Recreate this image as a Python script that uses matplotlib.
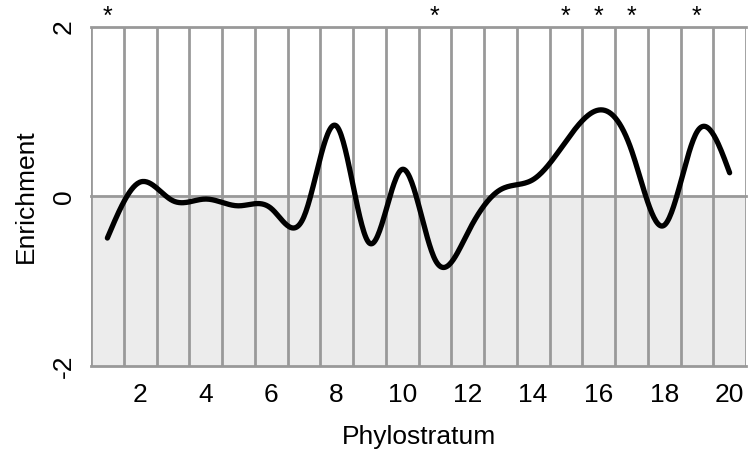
import numpy as np
import matplotlib
matplotlib.use('Agg')
import matplotlib.pyplot as plt

plt.rcParams['font.family'] = ['Liberation Sans', 'DejaVu Sans']

# enrichment per phylostratum
strata = [1, 2, 3, 4, 5, 6, 7, 8, 9, 10, 11, 12, 13, 14, 15, 16, 17, 18, 19, 20]
enrichment = [-0.49, 0.17, -0.05, -0.03, -0.11, -0.14, -0.24, 0.83, -0.55, 0.32,
              -0.74, -0.43, 0.08, 0.20, 0.65, 1.02, 0.55, -0.34, 0.76, 0.28]
significant = [1, 11, 15, 16, 17, 19]
xticks = [2, 4, 6, 8, 10, 12, 14, 16, 18, 20]
yticks = [-2, 0, 2]


def natural_spline(x, y, n=600):
    # plain natural cubic spline, only used to draw a smooth line through the points
    x = np.asarray(x, float)
    y = np.asarray(y, float)
    k = len(x)
    h = np.diff(x)
    A = np.zeros((k, k))
    b = np.zeros(k)
    A[0, 0] = A[-1, -1] = 1
    for i in range(1, k - 1):
        A[i, i - 1] = h[i - 1]
        A[i, i] = 2 * (h[i - 1] + h[i])
        A[i, i + 1] = h[i]
        b[i] = 6 * ((y[i + 1] - y[i]) / h[i] - (y[i] - y[i - 1]) / h[i - 1])
    m = np.linalg.solve(A, b)
    xs = np.linspace(x[0], x[-1], n)
    idx = np.clip(np.searchsorted(x, xs) - 1, 0, k - 2)
    x0, x1 = x[idx], x[idx + 1]
    hh = x1 - x0
    t0, t1 = x1 - xs, xs - x0
    ys = (m[idx] * t0 ** 3 / (6 * hh) + m[idx + 1] * t1 ** 3 / (6 * hh)
          + (y[idx] / hh - m[idx] * hh / 6) * t0
          + (y[idx + 1] / hh - m[idx + 1] * hh / 6) * t1)
    return xs, ys


fig = plt.figure(figsize=(7.49, 4.49), dpi=100)
ax = fig.add_axes([91 / 749, 1 - 366 / 449, 655 / 749, 339 / 449])

lo, hi = strata[0] - 0.5, strata[-1] + 0.5
ax.set_xlim(lo, hi)
ax.set_ylim(-2, 2)

ax.axhspan(-2, 0, color='#ececec', zorder=0)
grid = '#999999'
for xv in np.arange(lo, hi + 0.01, 1.0):
    ax.axvline(xv, color=grid, lw=2, zorder=1)
for yv in yticks:
    ax.axhline(yv, color=grid, lw=2, zorder=1, clip_on=False)

xs, ys = natural_spline(strata, enrichment)
ax.plot(xs, ys, color='black', lw=3.8, solid_capstyle='round', zorder=3)

for s in significant:
    ax.text(s, 2.12, '*', ha='center', va='center', fontsize=18, clip_on=False)

for sp in ax.spines.values():
    sp.set_visible(False)

ax.set_xticks(xticks)
ax.set_xticklabels([str(v) for v in xticks], fontsize=19)
ax.set_yticks(yticks)
ax.set_yticklabels([str(v) for v in yticks], fontsize=19, rotation=90, va='center')
ax.tick_params(axis='x', length=0, pad=12)
ax.tick_params(axis='y', length=0, pad=11)
ax.set_xlabel('Phylostratum', fontsize=19, labelpad=13)
ax.set_ylabel('Enrichment', fontsize=19, labelpad=10)

fig.savefig('out.png', dpi=100)
